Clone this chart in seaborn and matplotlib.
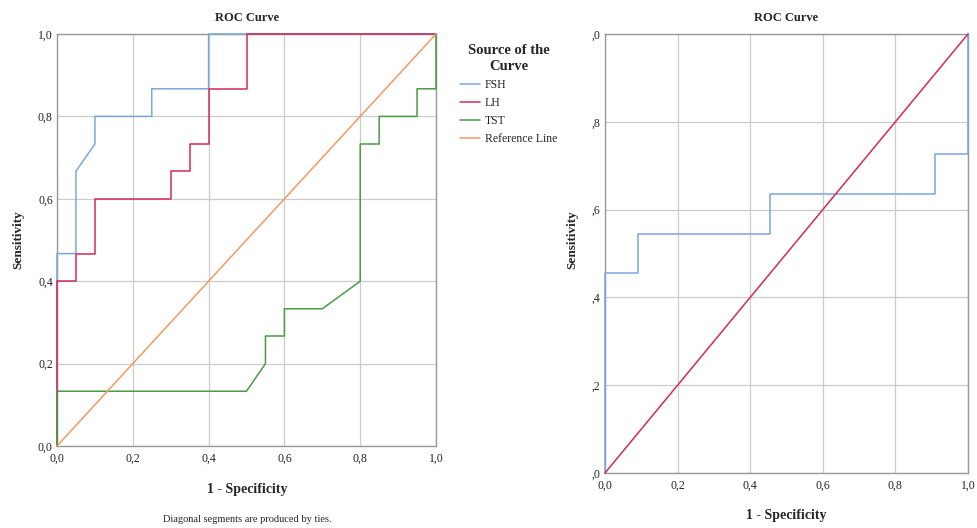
import matplotlib
matplotlib.use("Agg")
import matplotlib.pyplot as plt
import seaborn as sns
import pandas as pd

# ---- data (left panel) ----
fsh_x = [0, 0, 0.05, 0.05, 0.10, 0.10, 0.25, 0.25, 0.40, 0.40, 1.0]
fsh_y = [0, 0.467, 0.467, 0.667, 0.733, 0.800, 0.800, 0.867, 0.867, 1.0, 1.0]
lh_x = [0, 0, 0.05, 0.05, 0.10, 0.10, 0.30, 0.30, 0.35, 0.35, 0.40, 0.40, 0.50, 0.50, 1.0]
lh_y = [0, 0.400, 0.400, 0.467, 0.467, 0.600, 0.600, 0.667, 0.667, 0.733, 0.733, 0.867, 0.867, 1.0, 1.0]
tst_x = [0, 0, 0.50, 0.55, 0.55, 0.60, 0.60, 0.70, 0.80, 0.80, 0.85, 0.85, 0.95, 0.95, 1.0, 1.0]
tst_y = [0, 0.133, 0.133, 0.200, 0.267, 0.267, 0.333, 0.333, 0.400, 0.733, 0.733, 0.800, 0.800, 0.867, 0.867, 1.0]
ref_x = [0, 1]
ref_y = [0, 1]

# ---- data (right panel) ----
fsh2_x = [0, 0, 0.0909, 0.0909, 0.4545, 0.4545, 0.9091, 0.9091, 1.0, 1.0]
fsh2_y = [0, 0.4545, 0.4545, 0.5455, 0.5455, 0.6364, 0.6364, 0.7273, 0.7273, 1.0]

left_series = ["FSH", "LH", "TST", "Reference Line"]
left_colors = ["#7ba7db", "#d42a55", "#4a9a47", "#f29a63"]

x_ticks = [0, 0.2, 0.4, 0.6, 0.8, 1.0]
x_ticklabels = ["0,0", "0,2", "0,4", "0,6", "0,8", "1,0"]
y_ticklabels_left = ["0,0", "0,2", "0,4", "0,6", "0,8", "1,0"]
y_ticklabels_right = [",0", ",2", ",4", ",6", ",8", ",0"]

sns.set_theme(style="whitegrid")
plt.rcParams["font.family"] = ["Liberation Serif", "DejaVu Serif"]

fig = plt.figure(figsize=(9.77, 5.28), dpi=100)
W, H = 977, 528

def axes_px(x0, x1, y0, y1):
    return fig.add_axes([x0 / W, 1 - y1 / H, (x1 - x0) / W, (y1 - y0) / H])

ax1 = axes_px(57, 436, 34, 446)
ax2 = axes_px(605, 968, 34, 473)

df_left = pd.concat([
    pd.DataFrame({"x": fsh_x, "y": fsh_y, "src": "FSH"}),
    pd.DataFrame({"x": lh_x, "y": lh_y, "src": "LH"}),
    pd.DataFrame({"x": tst_x, "y": tst_y, "src": "TST"}),
    pd.DataFrame({"x": ref_x, "y": ref_y, "src": "Reference Line"}),
], ignore_index=True)

sns.lineplot(data=df_left, x="x", y="y", hue="src", hue_order=left_series,
             palette=left_colors, sort=False, estimator=None, units="src",
             linewidth=1.1, ax=ax1, legend=False)

df_right = pd.concat([
    pd.DataFrame({"x": fsh2_x, "y": fsh2_y, "src": "FSH"}),
    pd.DataFrame({"x": ref_x, "y": ref_y, "src": "Reference Line"}),
], ignore_index=True)
sns.lineplot(data=df_right, x="x", y="y", hue="src", hue_order=["FSH", "Reference Line"],
             palette=["#7ba7db", "#d42a55"], sort=False, estimator=None, units="src",
             linewidth=1.1, ax=ax2, legend=False)

for ax, ylabs in [(ax1, y_ticklabels_left), (ax2, y_ticklabels_right)]:
    ax.set_xlim(0, 1)
    ax.set_ylim(0, 1)
    ax.set_xticks(x_ticks)
    ax.set_xticklabels(x_ticklabels, fontsize=8.5)
    ax.set_yticks(x_ticks)
    ax.set_yticklabels(ylabs, fontsize=8.5)
    ax.grid(True, color="#cccccc", linewidth=0.9)
    ax.set_xlabel("")
    ax.set_ylabel("")
    ax.tick_params(axis="x", length=0, pad=5, colors="#222222")
    ax.tick_params(axis="y", length=0, pad=3, colors="#222222")
    for s in ax.spines.values():
        s.set_color("#999999")
        s.set_linewidth(1.0)
        s.set_zorder(1)
    ax.set_facecolor("white")
    for ln in ax.lines:
        ln.set_clip_on(False)
        ln.set_zorder(4)

# titles
fig.text(247 / W, 1 - 18 / H, "ROC Curve", ha="center", va="center", fontsize=9, fontweight="bold")
fig.text(786 / W, 1 - 18 / H, "ROC Curve", ha="center", va="center", fontsize=9, fontweight="bold")

# axis labels
fig.text(18 / W, 1 - 240 / H, "Sensitivity", rotation=90, ha="center", va="center", fontsize=9.5, fontweight="bold")
fig.text(572 / W, 1 - 240 / H, "Sensitivity", rotation=90, ha="center", va="center", fontsize=9.5, fontweight="bold")
fig.text(247 / W, 1 - 490 / H, "1 - Specificity", ha="center", va="center", fontsize=10, fontweight="bold")
fig.text(786 / W, 1 - 515 / H, "1 - Specificity", ha="center", va="center", fontsize=10, fontweight="bold")
fig.text(247 / W, 1 - 519 / H, "Diagonal segments are produced by ties.", ha="center", va="center", fontsize=7.5)

# legend
handles = [plt.Line2D([], [], color=c, linewidth=1.1) for c in left_colors]
leg = fig.legend(handles, left_series, loc="upper left", bbox_to_anchor=(455 / W, 1 - 39 / H),
                 frameon=False, title="Source of the\nCurve", fontsize=8.5,
                 title_fontproperties={"weight": "bold", "size": 10.5, "family": "Liberation Serif"},
                 handlelength=1.7, handletextpad=0.45, labelspacing=0.5, borderaxespad=0)
leg.get_title().set_multialignment("center")
leg.get_title().set_linespacing(1.35)

fig.savefig("out.png", dpi=100, facecolor="white")
